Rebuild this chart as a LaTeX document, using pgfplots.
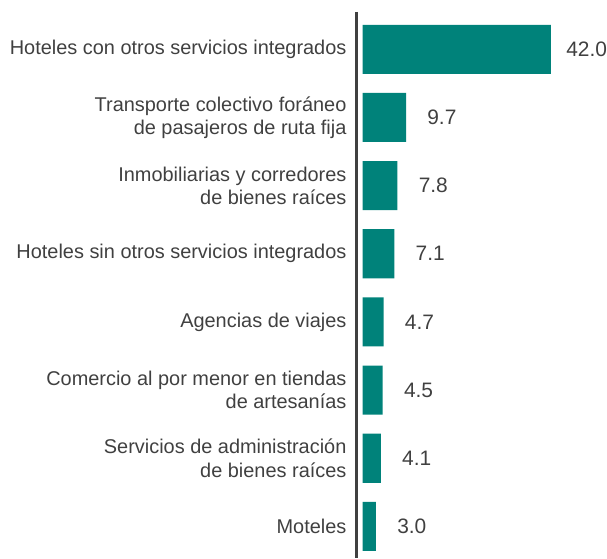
\documentclass[border=0pt]{standalone}
\usepackage{pgfplots}
\pgfplotsset{compat=1.18}
\usepackage{fontspec}
\setmainfont{Liberation Sans}
\definecolor{barc}{HTML}{00827A}
\definecolor{txt}{HTML}{404040}
\begin{document}
\begin{tikzpicture}
\begin{axis}[
  scale only axis,
  width=195pt, height=548pt,
  xbar, bar width=0.72,
  xmin=-1.33, xmax=42,
  ymin=-0.548, ymax=7.46,
  y dir=reverse,
  axis x line=none,
  axis y line*=left,
  y axis line style={draw=txt, line width=2.3pt, -},
  ytick={0,1,2,3,4,5,6,7},
  yticklabels={
    {Hoteles con otros servicios integrados},
    {Transporte colectivo foráneo\\de pasajeros de ruta fija},
    {Inmobiliarias y corredores\\de bienes raíces},
    {Hoteles sin otros servicios integrados},
    {Agencias de viajes},
    {Comercio al por menor en tiendas\\de artesanías},
    {Servicios de administración\\de bienes raíces},
    {Moteles}},
  major tick length=0pt,
  yticklabel style={align=right, text=txt, font=\fontsize{20}{23.5}\selectfont, inner sep=0pt, xshift=-10pt},
  nodes near coords={\pgfmathprintnumber[fixed,fixed zerofill,precision=1,assume math mode=true]{\pgfplotspointmeta}},
  every node near coord/.append style={anchor=center, xshift=36pt, text=txt, font=\fontsize{21}{24}\selectfont, inner sep=0pt},
  clip=false,
]
\addplot[fill=barc, draw=none] coordinates {
  (42.0,0) (9.7,1) (7.8,2) (7.1,3) (4.7,4) (4.5,5) (4.1,6) (3.0,7)
};
\path (rel axis cs:0,1) ++(-358pt,12pt) coordinate (tl);
\path (rel axis cs:1,0) ++(54pt,0pt) coordinate (br);
\path (tl) rectangle (br);
\end{axis}
\end{tikzpicture}
\end{document}
